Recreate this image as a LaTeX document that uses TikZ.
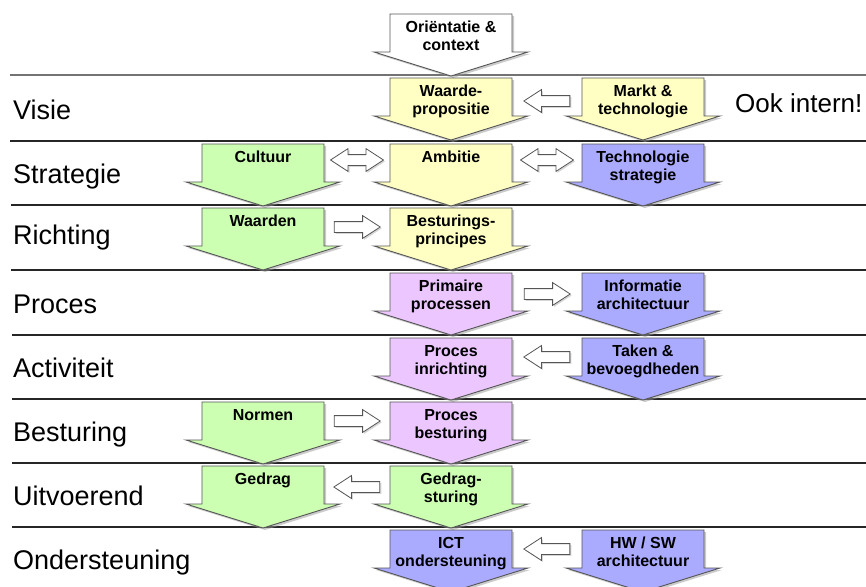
\documentclass[tikz,border=0pt]{standalone}
\usepackage{fontspec}
\setmainfont{Liberation Sans}
\usetikzlibrary{shapes.arrows,shadows,calc}

\definecolor{boxyellow}{RGB}{255,255,196}
\definecolor{boxgreen}{RGB}{204,255,178}
\definecolor{boxblue}{RGB}{170,170,255}
\definecolor{boxpink}{RGB}{236,198,255}
\definecolor{edgegray}{RGB}{85,85,85}

\tikzset{
  rowline/.style={line width=1.1pt, draw=black!85},
  rowlabel/.style={anchor=base west, inner sep=0pt, font=\fontsize{27}{31}\selectfont},
  notelabel/.style={anchor=base west, inner sep=0pt, font=\fontsize{26}{30}\selectfont},
  boxedge/.style={draw=edgegray, line width=0.9pt,
    drop shadow={shadow xshift=2pt, shadow yshift=-2pt, fill=black!40, opacity=0.5}},
  boxbody/.style={minimum width=122pt, minimum height=38pt, inner sep=0pt},
  boxtext/.style={anchor=north, align=center, inner sep=0pt,
    font=\fontsize{16}{18}\selectfont\bfseries},
  hollow/.style={single arrow, draw=edgegray, fill=white, line width=0.8pt,
    minimum width=22pt, minimum height=46pt, inner xsep=0pt, inner ysep=5pt,
    single arrow head extend=6pt, single arrow tip angle=66,
    drop shadow={shadow xshift=1.5pt, shadow yshift=-1.5pt, fill=black!40, opacity=0.4}},
  hollowright/.style={hollow, xshift=-4pt},
  hollowleft/.style={hollow, shape border rotate=180, xshift=4pt},
  hollowboth/.style={double arrow, draw=edgegray, fill=white, line width=0.8pt,
    minimum width=22pt, minimum height=53pt, inner xsep=0pt, inner ysep=5pt,
    double arrow head extend=6pt, double arrow tip angle=66,
    drop shadow={shadow xshift=1.5pt, shadow yshift=-1.5pt, fill=black!40, opacity=0.4}}
}

% block arrow: name, centre x, row line y, fill, text
\newcommand{\blockarrow}[5]{%
  \draw[boxedge, fill=#4] ({#2-61},{#3+3}) -- ({#2+61},{#3+3}) -- ({#2+61},{#3+41})
    -- ({#2+77},{#3+41}) -- (#2,{#3+65}) -- ({#2-77},{#3+41}) -- ({#2-61},{#3+41}) -- cycle;
  \node[boxbody] (#1) at (#2,{#3+22}) {};
  \node[boxtext] (#1-txt) at (#2,{#3+10}) {#5};
}

\begin{document}
\begin{tikzpicture}[x=1pt, y=-1pt]
  \clip (0,0) rectangle (866,586);
  \fill[white] (0,0) rectangle (866,586);

  % Drawing row lines and row labels
  \draw[rowline, draw=black!55, line width=1.6pt] (10,75) -- (866,75);
  \node[rowlabel] (visie) at (13,119) {Visie};
  \draw[rowline] (10,141) -- (866,141);
  \node[rowlabel] (strategie) at (13,183) {Strategie};
  \draw[rowline] (11,205) -- (866,205);
  \node[rowlabel] (richting) at (13,244) {Richting};
  \draw[rowline] (11,270) -- (866,270);
  \node[rowlabel] (proces) at (13,313) {Proces};
  \draw[rowline] (12,335) -- (866,335);
  \node[rowlabel] (activiteit) at (13,377) {Activiteit};
  \draw[rowline] (12,399) -- (866,399);
  \node[rowlabel] (besturing) at (13,441) {Besturing};
  \draw[rowline] (12,463) -- (866,463);
  \node[rowlabel] (uitvoerend) at (13,505) {Uitvoerend};
  \draw[rowline] (12,527) -- (866,527);
  \node[rowlabel] (ondersteuning) at (13,569) {Ondersteuning};

  % Drawing arrow Orientatie
  \blockarrow{orient}{451}{11}{white}{Oriëntatie \&\\context}

  % Row Visie
  \blockarrow{waarde}{451}{75}{boxyellow}{Waarde-\\propositie}
  \blockarrow{markt}{643}{75}{boxyellow}{Markt \&\\technologie}
  \node[notelabel] (ookintern) at (735,112) {Ook intern!};

  % Row Strategie
  \blockarrow{cultuur}{263}{141}{boxgreen}{Cultuur}
  \blockarrow{ambitie}{451}{141}{boxyellow}{Ambitie}
  \blockarrow{techstrat}{643}{141}{boxblue}{Technologie\\strategie}

  % Row Richting
  \blockarrow{waarden}{263}{205}{boxgreen}{Waarden}
  \blockarrow{principes}{451}{205}{boxyellow}{Besturings-\\principes}

  % Row Proces
  \blockarrow{primair}{451}{270}{boxpink}{Primaire\\processen}
  \blockarrow{infoarch}{643}{270}{boxblue}{Informatie\\architectuur}

  % Row Activiteit
  \blockarrow{inrichting}{451}{335}{boxpink}{Proces\\inrichting}
  \blockarrow{taken}{643}{335}{boxblue}{Taken \&\\bevoegdheden}

  % Row Besturing
  \blockarrow{normen}{263}{399}{boxgreen}{Normen}
  \blockarrow{procbest}{451}{399}{boxpink}{Proces\\besturing}

  % Row Uitvoerend
  \blockarrow{gedrag}{263}{463}{boxgreen}{Gedrag}
  \blockarrow{gedragst}{451}{463}{boxgreen}{Gedrag-\\sturing}

  % Row Ondersteuning
  \blockarrow{ict}{451}{527}{boxblue}{ICT\\ondersteuning}
  \blockarrow{hwsw}{643}{527}{boxblue}{HW / SW\\architectuur}

  % Drawing hollow connectors
  \node[hollowleft] (markt-waarde) at ($(waarde.east)!0.5!(markt.west)+(0,4)$) {};
  \node[hollowboth] (cultuur-ambitie) at ($(cultuur.east)!0.5!(ambitie.west)+(0,-3)$) {};
  \node[hollowboth] (ambitie-techstrat) at ($(ambitie.east)!0.5!(techstrat.west)+(0,-3)$) {};
  \node[hollowright] (waarden-principes) at ($(waarden.east)!0.5!(principes.west)$) {};
  \node[hollowright] (primair-infoarch) at ($(primair.east)!0.5!(infoarch.west)+(0,2)$) {};
  \node[hollowleft] (taken-inrichting) at ($(inrichting.east)!0.5!(taken.west)$) {};
  \node[hollowright] (normen-procbest) at ($(normen.east)!0.5!(procbest.west)$) {};
  \node[hollowleft] (gedragst-gedrag) at ($(gedrag.east)!0.5!(gedragst.west)+(0,2)$) {};
  \node[hollowleft] (hwsw-ict) at ($(ict.east)!0.5!(hwsw.west)$) {};
\end{tikzpicture}
\end{document}
